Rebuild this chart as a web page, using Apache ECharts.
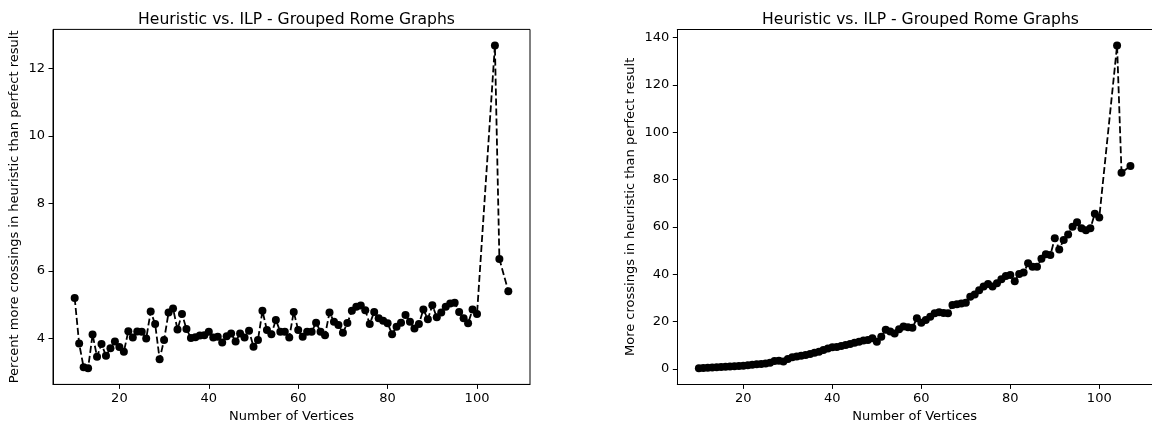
<!DOCTYPE html>
<html>
<head>
<meta charset="utf-8">
<script src="https://cdn.jsdelivr.net/npm/echarts@6/dist/echarts.min.js"></script>
<style>
html,body{margin:0;padding:0;background:#fff;overflow:hidden;}
#c{width:1152px;height:431px;}
</style>
</head>
<body>
<div id="c"></div>
<script>
const vertices = [10,11,12,13,14,15,16,17,18,19,20,21,22,23,24,25,26,27,28,29,30,31,32,33,34,35,36,37,38,39,40,41,42,43,44,45,46,47,48,49,50,51,52,53,54,55,56,57,58,59,60,61,62,63,64,65,66,67,68,69,70,71,72,73,74,75,76,77,78,79,80,81,82,83,84,85,86,87,88,89,90,91,92,93,94,95,96,97,98,99,100,104,105,107];

const percentMore = [5.2,3.85,3.15,3.12,4.12,3.46,3.84,3.49,3.71,3.91,3.75,3.61,4.22,4.03,4.21,4.2,4.0,4.8,4.43,3.39,3.96,4.77,4.89,4.27,4.73,4.28,4.02,4.04,4.09,4.1,4.2,4.03,4.05,3.88,4.07,4.15,3.91,4.15,4.03,4.23,3.76,3.96,4.82,4.25,4.13,4.55,4.2,4.2,4.03,4.79,4.25,4.05,4.2,4.2,4.47,4.2,4.1,4.77,4.5,4.4,4.17,4.46,4.82,4.94,4.98,4.84,4.43,4.79,4.6,4.53,4.45,4.13,4.35,4.47,4.7,4.5,4.3,4.43,4.86,4.57,4.99,4.63,4.77,4.94,5.04,5.06,4.79,4.6,4.45,4.86,4.73,12.68,6.36,5.4];

const moreCrossings = [0.3,0.4,0.5,0.6,0.7,0.8,0.9,1.0,1.1,1.3,1.4,1.6,1.8,2.0,2.1,2.3,2.6,3.4,3.5,3.2,4.2,5.0,5.3,5.6,5.9,6.3,6.9,7.3,8.0,8.6,9.2,9.3,9.7,10.1,10.6,11.1,11.5,12.0,12.2,13.0,11.5,13.6,16.6,15.8,15.0,16.8,17.9,17.6,17.4,21.4,19.5,20.7,22.1,23.5,24.0,23.6,23.5,27.0,27.3,27.6,28.0,30.5,31.5,33.3,34.8,35.9,34.8,36.2,37.9,39.3,39.7,37.0,40.1,40.7,44.6,43.2,43.2,46.5,48.5,48.1,55.2,50.5,54.5,56.8,60.1,62.0,59.4,58.6,59.4,65.6,64.0,136.6,82.9,85.7];

const xTicks = [20,40,60,80,100];
const leftYTicks = [4,6,8,10,12];
const rightYTicks = [0,20,40,60,80,100,120,140];

const titleText = 'Heuristic vs. ILP - Grouped Rome Graphs';
const xName = 'Number of Vertices';
const leftYName = 'Percent more crossings in heuristic than perfect result';
const rightYName = 'More crossings in heuristic than perfect result';

function pairs(xs, ys){ return xs.map((x,i)=>[x, ys[i]]); }
function pad(arr){ const mn=Math.min(...arr), mx=Math.max(...arr), m=(mx-mn)*0.05; return [mn-m, mx+m]; }

const FONT = 'DejaVu Sans';
const xr = pad(vertices), ly = pad(percentMore), ry = pad(moreCrossings);

function xAxis(gi){
  return {
    type:'value', gridIndex:gi, min:xr[0], max:xr[1],
    name:xName, nameLocation:'middle', nameGap:25,
    nameTextStyle:{color:'#000', fontSize:13, fontFamily:FONT},
    axisLine:{show:true, onZero:false, lineStyle:{color:'#000', width:1}},
    axisTick:{show:true, inside:false, length:4.5, customValues:xTicks, lineStyle:{color:'#000', width:1}},
    axisLabel:{color:'#000', fontSize:13, fontFamily:FONT, margin:8, customValues:xTicks},
    splitLine:{show:false}
  };
}
function topSpine(gi){
  return {
    type:'value', gridIndex:gi, position:'top', min:xr[0], max:xr[1],
    axisLine:{show:true, onZero:false, lineStyle:{color:'#000', width:1}},
    axisTick:{show:false}, axisLabel:{show:false}, splitLine:{show:false}
  };
}
function yAxis(gi, r, ticks, name, gap){
  return {
    type:'value', gridIndex:gi, min:r[0], max:r[1],
    name:name, nameLocation:'middle', nameGap:gap,
    nameTextStyle:{color:'#000', fontSize:13, fontFamily:FONT},
    axisLine:{show:true, onZero:false, lineStyle:{color:'#000', width:1}},
    axisTick:{show:true, inside:false, length:4.5, customValues:ticks, lineStyle:{color:'#000', width:1}},
    axisLabel:{color:'#000', fontSize:13, fontFamily:FONT, margin:8, customValues:ticks},
    splitLine:{show:false}
  };
}
function series(gi, data){
  return {
    type:'line', xAxisIndex:gi, yAxisIndex:gi, data:data,
    symbol:'circle', symbolSize:8, showSymbol:true,
    itemStyle:{color:'#000'},
    lineStyle:{color:'#000', width:1.8, type:[7,3]},
    animation:false, silent:true
  };
}

const chart = echarts.init(document.getElementById('c'), null, {renderer:'canvas'});
chart.setOption({
  backgroundColor:'#fff',
  animation:false,
  title:[
    {text:titleText, left:291.5, top:7, textAlign:'center', textStyle:{color:'#000', fontSize:15.6, fontWeight:'normal', fontFamily:FONT}},
    {text:titleText, left:915.5, top:7, textAlign:'center', textStyle:{color:'#000', fontSize:15.6, fontWeight:'normal', fontFamily:FONT}}
  ],
  grid:[
    {left:53, top:29.4, width:477, height:355, show:true, borderColor:'#000', borderWidth:1, backgroundColor:'transparent'},
    {left:677.3, top:29.4, width:477.4, height:355, show:false}
  ],
  xAxis:[xAxis(0), xAxis(1), topSpine(1)],
  yAxis:[yAxis(0, ly, leftYTicks, leftYName, 32), yAxis(1, ry, rightYTicks, rightYName, 40)],
  series:[series(0, pairs(vertices, percentMore)), series(1, pairs(vertices, moreCrossings))]
});
</script>
</body>
</html>
